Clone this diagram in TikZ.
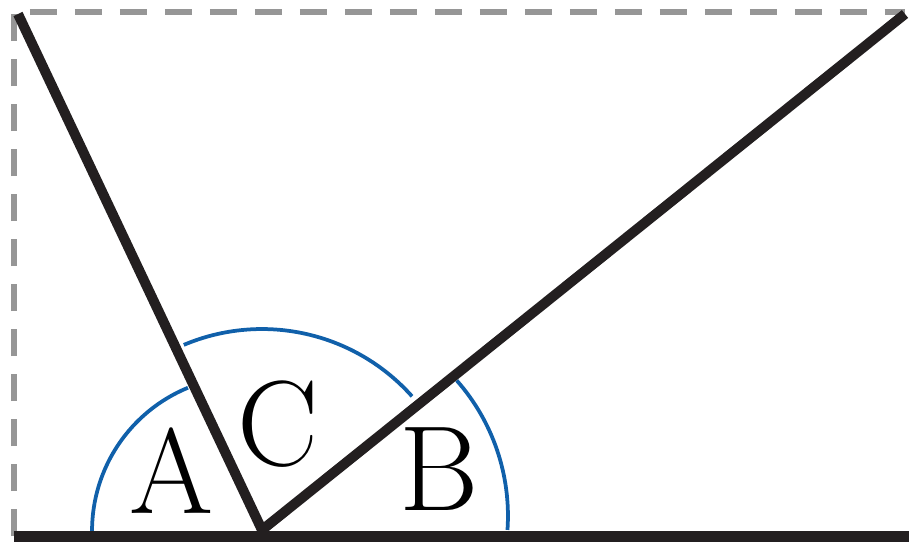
\documentclass[tikz,border=0pt]{standalone}
\usepackage{tikz,amsmath,amssymb}
\usetikzlibrary{calc}
\definecolor{arcblue}{RGB}{16,96,170}
\definecolor{framegray}{RGB}{150,150,150}
\definecolor{inkblack}{RGB}{35,31,32}

\begin{document}
\begin{tikzpicture}[x=0.02cm,y=0.02cm,line cap=butt]
			\useasboundingbox (0,0) rectangle (909,545);
			\coordinate (bl) at (14,9);
			\coordinate (br) at (909,9);
			\coordinate (tl) at (14,533);
			\coordinate (tr) at (905,533);
			\coordinate (o) at (262,15);
			\coordinate (l) at (18,531);
			\coordinate (r) at (905,531);
			\coordinate (ca) at (247,14);
			\coordinate (cb) at (303,29);
			\draw[framegray,line width=1.1mm,dash pattern=on 5.5mm off 3.5mm] (bl) -- (tl) -- (tr);
			% arcs of A, C, B
			\draw[arcblue,line width=0.75mm] (ca) ++(180:3.1cm) arc[start angle=180,end angle=112.4,radius=3.1cm];
			\draw[arcblue,line width=0.75mm] (o) ++(112.9:4.02cm) arc[start angle=112.9,end angle=41.7,radius=4.02cm];
			\draw[arcblue,line width=0.75mm] (cb) ++(41.4:4.1cm) arc[start angle=41.4,end angle=-3.9,radius=4.1cm];
			\draw[inkblack,line width=2mm,line join=miter] (l) -- (o) -- (r);
			\draw[inkblack,line width=2.2mm] (bl) -- (br);
			\node[anchor=base,inner sep=0pt,font=\fontsize{69}{69}\selectfont] (a) at (172,32) {A};
			\node[anchor=base,inner sep=0pt,font=\fontsize{69}{69}\selectfont] (c) at (278,80) {C};
			\node[anchor=base,inner sep=0pt,font=\fontsize{69}{69}\selectfont] (b) at (439,35) {B};
		\end{tikzpicture}
\end{document}
